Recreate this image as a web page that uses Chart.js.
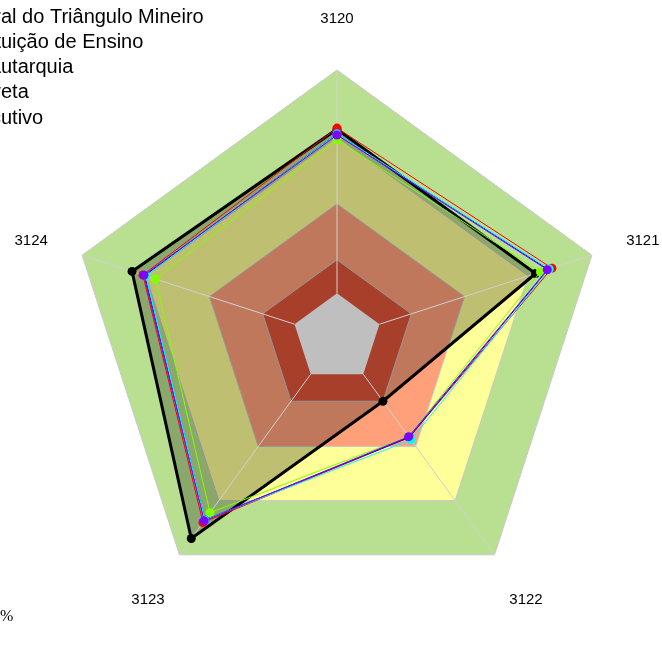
<!DOCTYPE html>
<html>
<head>
<meta charset="utf-8">
<script src="https://cdn.jsdelivr.net/npm/chart.js@4/dist/chart.umd.min.js"></script>
<style>
  html, body { margin: 0; padding: 0; background: #fff; }
  #wrap { width: 662px; height: 666px; }
</style>
</head>
<body>
<div id="wrap"><canvas id="radar"></canvas></div>
<script>
// eixos
const axisLabels = ['3120', '3121', '3122', '3123', '3124'];

// series (%)
const campus = [73.5, 73.5, 15, 91, 76.5];          // preto
const iftm = [74, 81.2, 35, 82.1, 71.4];            // vermelho
const instituicao = [68.7, 75.8, 34.5, 76.7, 65.5]; // verde
const autarquia = [71.4, 79.4, 35, 80.7, 70.5];     // azul
const indireta = [71.4, 79.9, 36.4, 80.7, 70];      // ciano
const executivo = [70.9, 79, 34.6, 81.2, 70.9];     // roxo

// faixas de fundo (a de 0 e o miolo branco)
const bandLimits = [0, 15, 40, 70, 100];
const bandColors = ['#FFFFFF', '#E0553A', '#FFA07A', '#FFFF99', '#B9E090'];

// legenda (cortada na borda esquerda)
const legendLabels = [
  'Instituto Federal do Triângulo Mineiro',
  'Instituição de Ensino',
  'Autarquia',
  'Administração Indireta',
  'Poder Executivo',
];
const legendCut = ['Instituto Feder', 'Instit', 'A', 'Administração Indir', 'Poder Exec'];

const line = (label, data, color, width) => ({
  label,
  data,
  borderColor: color,
  borderWidth: width,
  backgroundColor: 'rgba(0,0,0,0)',
  pointBackgroundColor: color,
  pointBorderWidth: 0,
  pointRadius: 4.5,
  fill: false,
});

const datasets = [
  line('Poder Executivo', executivo, '#8000FF', 1),
  line('Administração Indireta', indireta, '#00FFFF', 1),
  line('Autarquia', autarquia, '#0000FF', 1),
  line('Instituição de Ensino', instituicao, '#80FF00', 1),
  line('Instituto Federal do Triângulo Mineiro', iftm, '#FF0000', 1),
  { ...line('Campus', campus, '#000000', 3), backgroundColor: 'rgba(0,0,0,0.25)', fill: 'start' },
];
const nSeries = datasets.length;

bandLimits.forEach((v, i) => {
  datasets.push({
    label: 'faixa ' + v,
    data: axisLabels.map(() => v),
    borderColor: '#C8C8C8',
    borderWidth: i === 0 ? 0 : 1,
    backgroundColor: bandColors[i],
    pointRadius: 0,
    fill: 'start',
  });
});

// raios: depois do preenchimento da serie preta, antes da linha dela
const spokes = {
  id: 'spokes',
  beforeDatasetDraw(chart, args) {
    if (args.index !== nSeries - 1) return;
    const r = chart.scales.r;
    const ctx = chart.ctx;
    ctx.save();
    ctx.strokeStyle = '#D0D0D0';
    ctx.lineWidth = 1;
    axisLabels.forEach((_, i) => {
      const a = r.getPointPositionForValue(i, 0);
      const b = r.getPointPositionForValue(i, 100);
      ctx.beginPath();
      ctx.moveTo(a.x, a.y);
      ctx.lineTo(b.x, b.y);
      ctx.stroke();
    });
    ctx.restore();
  },
};

const texts = {
  id: 'texts',
  afterDraw(chart) {
    const r = chart.scales.r;
    const ctx = chart.ctx;
    ctx.save();
    ctx.fillStyle = '#000';
    ctx.textAlign = 'center';
    ctx.textBaseline = 'middle';
    ctx.font = '15px "Liberation Sans", Arial, sans-serif';
    axisLabels.forEach((lab, i) => {
      const p = r.getPointPositionForValue(i, 124);
      ctx.fillText(lab, p.x, p.y + 2);
    });

    ctx.textAlign = 'left';
    ctx.font = '20px "Liberation Sans", Arial, sans-serif';
    legendLabels.forEach((lab, i) => {
      const x = 1 - ctx.measureText(legendCut[i]).width;
      ctx.fillText(lab, x, 17 + 25.3 * i);
    });

    ctx.font = '16px "Liberation Serif", "Times New Roman", serif';
    ctx.fillText('%', 0, 617);
    ctx.restore();
  },
};

new Chart(document.getElementById('radar'), {
  type: 'radar',
  data: { labels: axisLabels, datasets },
  options: {
    responsive: true,
    maintainAspectRatio: false,
    animation: false,
    layout: { padding: { left: 69, right: 57, top: 70, bottom: 60 } },
    elements: { line: { tension: 0 } },
    plugins: { legend: { display: false }, tooltip: { enabled: false } },
    scales: {
      r: {
        min: -20,
        max: 100,
        ticks: { display: false },
        pointLabels: { display: false },
        grid: { display: false },
        angleLines: { display: false },
      },
    },
  },
  plugins: [spokes, texts],
});
</script>
</body>
</html>
